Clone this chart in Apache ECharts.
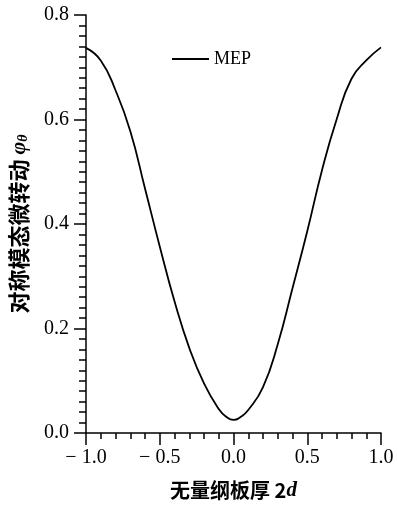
<!DOCTYPE html>
<html>
<head>
<meta charset="utf-8">
<script src="https://cdn.jsdelivr.net/npm/echarts@6/dist/echarts.min.js"></script>
<style>html,body{margin:0;padding:0;background:#fff}#c{width:398px;height:506px}</style>
</head>
<body>
<div id="c"></div>
<script>
var xValues = [-1.0, -0.9, -0.8, -0.7, -0.6, -0.5, -0.4, -0.3, -0.2, -0.1, -0.05, 0.0, 0.05, 0.1, 0.2, 0.3, 0.4, 0.5, 0.6, 0.7, 0.8, 0.9, 1.0];
var mepValues = [0.737, 0.713, 0.656, 0.578, 0.468, 0.357, 0.252, 0.163, 0.095, 0.046, 0.031, 0.025, 0.031, 0.044, 0.088, 0.170, 0.277, 0.386, 0.503, 0.601, 0.678, 0.713, 0.738];
var xTickLabels = {"-1": "\u2212 1.0", "-0.5": "\u2212 0.5", "0": "0.0", "0.5": "0.5", "1": "1.0"};
var yTickLabels = {"0": "0.0", "0.2": "0.2", "0.4": "0.4", "0.6": "0.6", "0.8": "0.8"};
var seriesName = "MEP";

var serif = "Liberation Serif";
var chart = echarts.init(document.getElementById('c'));
chart.setOption({
  backgroundColor: '#fff',
  animation: false,
  grid: {left: 86, right: 17, top: 15, bottom: 71},
  legend: {
    left: 167, top: 45,
    itemWidth: 37, itemHeight: 2, itemGap: 4,
    icon: 'rect',
    data: [seriesName],
    textStyle: {fontFamily: serif, fontSize: 18, color: '#000'}
  },
  xAxis: {
    type: 'value', min: -1, max: 1, interval: 0.5,
    axisLine: {show: true, onZero: false, lineStyle: {color: '#000', width: 1.5}},
    axisTick: {show: true, inside: false, length: 12, lineStyle: {color: '#000', width: 1.5}},
    minorTick: {show: true, splitNumber: 5, length: 6, lineStyle: {color: '#000', width: 1.5}},
    splitLine: {show: false},
    axisLabel: {
      margin: 15, fontFamily: serif, fontSize: 20, color: '#000',
      formatter: function (v) { return xTickLabels[String(Math.round(v * 10) / 10)]; }
    },
    name: '无量纲板厚 2{i|d}',
    nameLocation: 'middle', nameGap: 47,
    nameTextStyle: {
      fontFamily: 'Noto Sans CJK SC', fontSize: 20, fontWeight: 'bold', color: '#000',
      rich: {i: {fontFamily: serif, fontStyle: 'italic', fontWeight: 'bold', fontSize: 21, color: '#000'}}
    }
  },
  yAxis: {
    type: 'value', min: 0, max: 0.8, interval: 0.2,
    axisLine: {show: true, onZero: false, lineStyle: {color: '#000', width: 1.5}},
    axisTick: {show: true, inside: false, length: 12, lineStyle: {color: '#000', width: 1.5}},
    minorTick: {show: true, splitNumber: 10, length: 7, lineStyle: {color: '#000', width: 1.5}},
    splitLine: {show: false},
    axisLabel: {
      margin: 17, fontFamily: serif, fontSize: 20, color: '#000',
      formatter: function (v) { return yTickLabels[String(Math.round(v * 10) / 10)]; }
    },
    name: '对称模态微转动 {i|φ}{s|θ}',
    nameLocation: 'middle', nameGap: 56, nameRotate: 90,
    nameTextStyle: {
      fontFamily: 'Noto Sans CJK SC', fontSize: 22, fontWeight: 'bold', color: '#000',
      rich: {
        i: {fontFamily: serif, fontStyle: 'italic', fontSize: 22, color: '#000'},
        s: {fontFamily: serif, fontStyle: 'italic', fontSize: 14, color: '#000', padding: [8, 0, 0, 0]}
      }
    }
  },
  series: [{
    name: seriesName,
    type: 'line',
    smooth: 0.5,
    symbol: 'none',
    data: xValues.map(function (x, i) { return [x, mepValues[i]]; }),
    lineStyle: {color: '#000', width: 1.8},
    itemStyle: {color: '#000'}
  }]
});
</script>
</body>
</html>
